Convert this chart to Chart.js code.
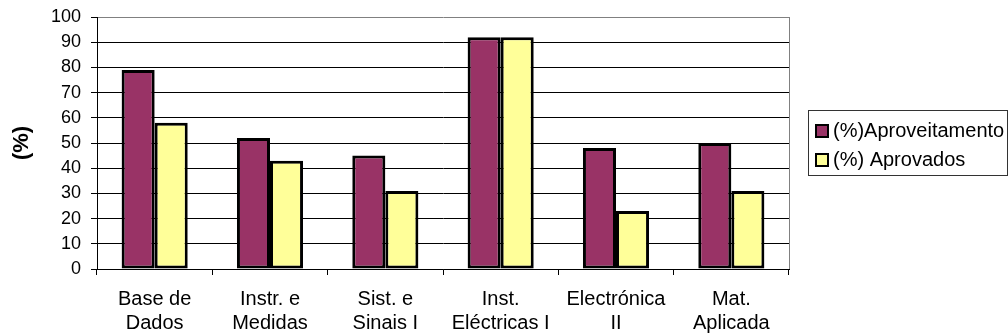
<!DOCTYPE html>
<html>
<head>
<meta charset="utf-8">
<style>
  html, body { margin: 0; padding: 0; background: #fff; }
  #wrap { width: 1008px; height: 336px; }
</style>
<script src="https://cdn.jsdelivr.net/npm/chart.js@4/dist/chart.umd.min.js"></script>
</head>
<body>
<div id="wrap"><canvas id="c" width="1008" height="336"></canvas></div>
<script>
// Course names (two lines each)
const categories = [
  ['Base de', 'Dados'],
  ['Instr. e', 'Medidas'],
  ['Sist. e', 'Sinais I'],
  ['Inst.', 'Eléctricas I'],
  ['Electrónica', 'II'],
  ['Mat.', 'Aplicada']
];
const seriesNames = ['(%)Aproveitamento', '(%) Aprovados'];
const aproveitamento = [79, 52, 45, 92, 48, 50];
const aprovados = [58, 43, 31, 92, 23, 31];
const yTicks = [0, 10, 20, 30, 40, 50, 60, 70, 80, 90, 100];
const yTitle = '(%)';

const FONT = '"Liberation Sans", Arial, sans-serif';
const colors = ['#993366', '#FFFF99'];

// Gray frame on the right of the plot area
const frame = {
  id: 'frame',
  beforeDatasetsDraw(chart) {
    const { ctx, chartArea: a } = chart;
    ctx.save();
    ctx.strokeStyle = '#808080';
    ctx.lineWidth = 1;
    ctx.beginPath();
    ctx.moveTo(Math.round(a.right) + 0.5, a.top);
    ctx.lineTo(Math.round(a.right) + 0.5, a.bottom);
    ctx.stroke();
    ctx.restore();
  }
};

// Boxed legend on the right side
const boxLegend = {
  id: 'boxLegend',
  afterDraw(chart) {
    const { ctx } = chart;
    const x = 808, y = 110, w = 199, h = 65;
    ctx.save();
    ctx.strokeStyle = '#333';
    ctx.lineWidth = 1;
    ctx.strokeRect(x + 0.5, y + 0.5, w, h);
    ctx.font = '20px ' + FONT;
    ctx.textBaseline = 'middle';
    chart.data.datasets.forEach((ds, i) => {
      const cy = 131 + i * 29;
      ctx.fillStyle = ds.backgroundColor;
      ctx.fillRect(816, cy - 6, 12, 12);
      ctx.lineWidth = 2;
      ctx.strokeStyle = '#000';
      ctx.strokeRect(816, cy - 6, 12, 12);
      ctx.fillStyle = '#000';
      ctx.fillText(ds.label, 833, cy);
    });
    ctx.restore();
  }
};

new Chart(document.getElementById('c'), {
  type: 'bar',
  data: {
    labels: categories,
    datasets: [
      { label: seriesNames[0], data: aproveitamento, backgroundColor: colors[0] },
      { label: seriesNames[1], data: aprovados, backgroundColor: colors[1] }
    ]
  },
  options: {
    responsive: false,
    animation: false,
    devicePixelRatio: 1,
    layout: { padding: { top: 17, right: 219, left: 0, bottom: 0 } },
    datasets: {
      bar: {
        categoryPercentage: 0.573,
        barPercentage: 1.0,
        borderColor: '#000',
        borderWidth: 3,
        borderSkipped: false
      }
    },
    plugins: {
      legend: { display: false },
      tooltip: { enabled: false }
    },
    scales: {
      x: {
        offset: true,
        grid: {
          offset: true,
          drawOnChartArea: false,
          drawTicks: true,
          tickLength: 6,
          tickColor: '#000',
          color: '#000'
        },
        border: { color: '#000', width: 1 },
        ticks: {
          color: '#000',
          font: { family: FONT, size: 20 },
          padding: 12,
          maxRotation: 0,
          autoSkip: false
        },
        afterFit(scale) { scale.height = 67; }
      },
      y: {
        min: 0,
        max: 100,
        afterBuildTicks(scale) { scale.ticks = yTicks.map(v => ({ value: v })); },
        grid: {
          color: ctx => (ctx.tick && ctx.tick.value === 100 ? '#808080' : '#000'),
          lineWidth: 1,
          drawTicks: true,
          tickLength: 6,
          tickColor: '#000'
        },
        border: { color: '#000', width: 1 },
        ticks: {
          color: '#000',
          font: { family: FONT, size: 18 },
          padding: 10
        },
        title: {
          display: true,
          text: yTitle,
          color: '#000',
          font: { family: FONT, size: 22, weight: 'bold' },
          padding: { top: 9, bottom: 0 }
        },
        afterFit(scale) {
          scale.width = 97;
          scale.paddingTop = 0;
          scale.paddingBottom = 0;
        }
      }
    }
  },
  plugins: [frame, boxLegend]
});
</script>
</body>
</html>
